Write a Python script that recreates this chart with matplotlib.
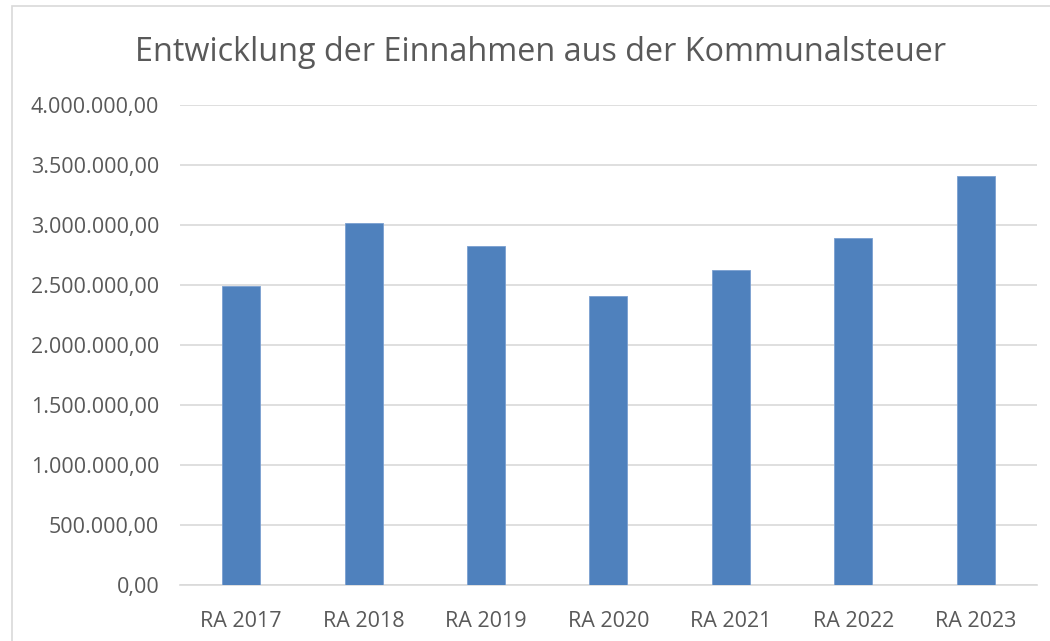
import matplotlib
matplotlib.use("Agg")
import matplotlib.pyplot as plt
from matplotlib.patches import Rectangle
from matplotlib.ticker import FuncFormatter

categories = ["RA 2017", "RA 2018", "RA 2019", "RA 2020", "RA 2021", "RA 2022", "RA 2023"]
values = [2489000, 3014000, 2828000, 2408000, 2622000, 2894000, 3411000]
y_ticks = [0, 500000, 1000000, 1500000, 2000000, 2500000, 3000000, 3500000, 4000000]

plt.rcParams['font.family'] = ['Open Sans', 'DejaVu Sans']

def de_format(v, pos):
    s = "{:,.2f}".format(v)
    return s.replace(",", "X").replace(".", ",").replace("X", ".")

fig = plt.figure(figsize=(10.5, 6.41), dpi=100)
ax = fig.add_axes([0.1714, 0.0874, 0.8162, 0.7488])

# chart border like the Excel frame
fig.patches.append(Rectangle((12 / 1050, -0.1), 1.2, (641 - 6) / 641 + 0.1,
                             transform=fig.transFigure, fill=False,
                             edgecolor="#d9d9d9", linewidth=1.2))

x = list(range(len(categories)))
ax.bar(x, values, width=0.31, color="#4f81bd", edgecolor="#7a9fd0", linewidth=0.6, zorder=3)

ax.set_xlim(-0.5, len(categories) - 0.5)
ax.set_ylim(0, 4000000)
ax.set_yticks(y_ticks)
ax.yaxis.set_major_formatter(FuncFormatter(de_format))
ax.set_xticks(x)
ax.set_xticklabels(categories)

ax.grid(axis="y", color="#d9d9d9", linewidth=1.2, zorder=0)
for side in ["top", "right", "left"]:
    ax.spines[side].set_visible(False)
ax.spines["bottom"].set_color("#d9d9d9")
ax.spines["bottom"].set_linewidth(1.2)
ax.tick_params(axis="both", length=0, colors="#595959", labelsize=15.5)
ax.tick_params(axis="y", pad=15)
ax.tick_params(axis="x", pad=19)

fig.text(0.515, 0.918, "Entwicklung der Einnahmen aus der Kommunalsteuer",
         ha="center", va="center", fontsize=23.3, color="#595959")

fig.savefig("out.png", dpi=100)
